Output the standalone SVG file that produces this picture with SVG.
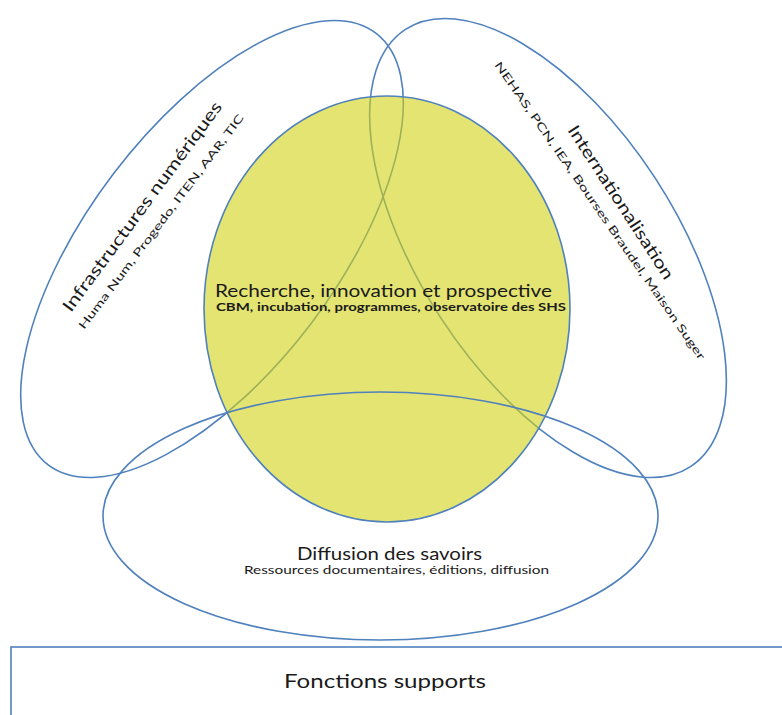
<svg xmlns="http://www.w3.org/2000/svg" width="782" height="715" viewBox="0 0 782 715">
<style>
.ln{fill:none;stroke:#4f81bd;stroke-width:1.6}
.t{font-family:Lato,"Open Sans","Liberation Sans",sans-serif;fill:#1a1a1a}
.h{font-size:17px}
.s{font-size:11px}
</style>
<rect width="782" height="715" fill="#ffffff"/>
<g id="connectors"></g>
<g id="infrastructures">
<ellipse class="ln" cx="212" cy="249" rx="271" ry="124" transform="rotate(-52.8 212 249)"/>
<text class="t h" transform="translate(71,313) rotate(-53.6)" textLength="256" lengthAdjust="spacingAndGlyphs">Infrastructures numériques</text>
<text class="t s" transform="translate(84,330) rotate(-52.9)" textLength="266" lengthAdjust="spacingAndGlyphs">Huma Num, Progedo, ITEN, AAR, TIC</text>
</g>
<g id="internationalisation">
<ellipse class="ln" cx="548" cy="248" rx="261" ry="128" transform="rotate(56.9 548 248)"/>
<text class="t h" transform="translate(567,130) rotate(57)" textLength="180" lengthAdjust="spacingAndGlyphs">Internationalisation</text>
<text class="t s" transform="translate(494,65) rotate(55.2)" textLength="360" lengthAdjust="spacingAndGlyphs">NEHAS, PCN, IEA, Bourses Braudel, Maison Suger</text>
</g>
<g id="recherche">
<ellipse cx="387" cy="309" rx="183" ry="213" fill="#d2d214" fill-opacity="0.6" stroke="#4f81bd" stroke-width="1.6"/>
<text class="t h" x="215" y="297" textLength="337" lengthAdjust="spacingAndGlyphs">Recherche, innovation et prospective</text>
<text class="t s" x="216" y="311" textLength="350" lengthAdjust="spacingAndGlyphs" font-weight="bold">CBM, incubation, programmes, observatoire des SHS</text>
</g>
<g id="diffusion">
<ellipse class="ln" cx="380.5" cy="516" rx="277.5" ry="124"/>
<text class="t h" x="297" y="560" textLength="185" lengthAdjust="spacingAndGlyphs">Diffusion des savoirs</text>
<text class="t s" x="244" y="574" textLength="305" lengthAdjust="spacingAndGlyphs">Ressources documentaires, éditions, diffusion</text>
</g>
<g id="fonctions">
<rect class="ln" x="11" y="647" width="800" height="100"/>
<text class="t" x="284" y="688" font-size="20" textLength="202" lengthAdjust="spacingAndGlyphs">Fonctions supports</text>
</g>
</svg>
